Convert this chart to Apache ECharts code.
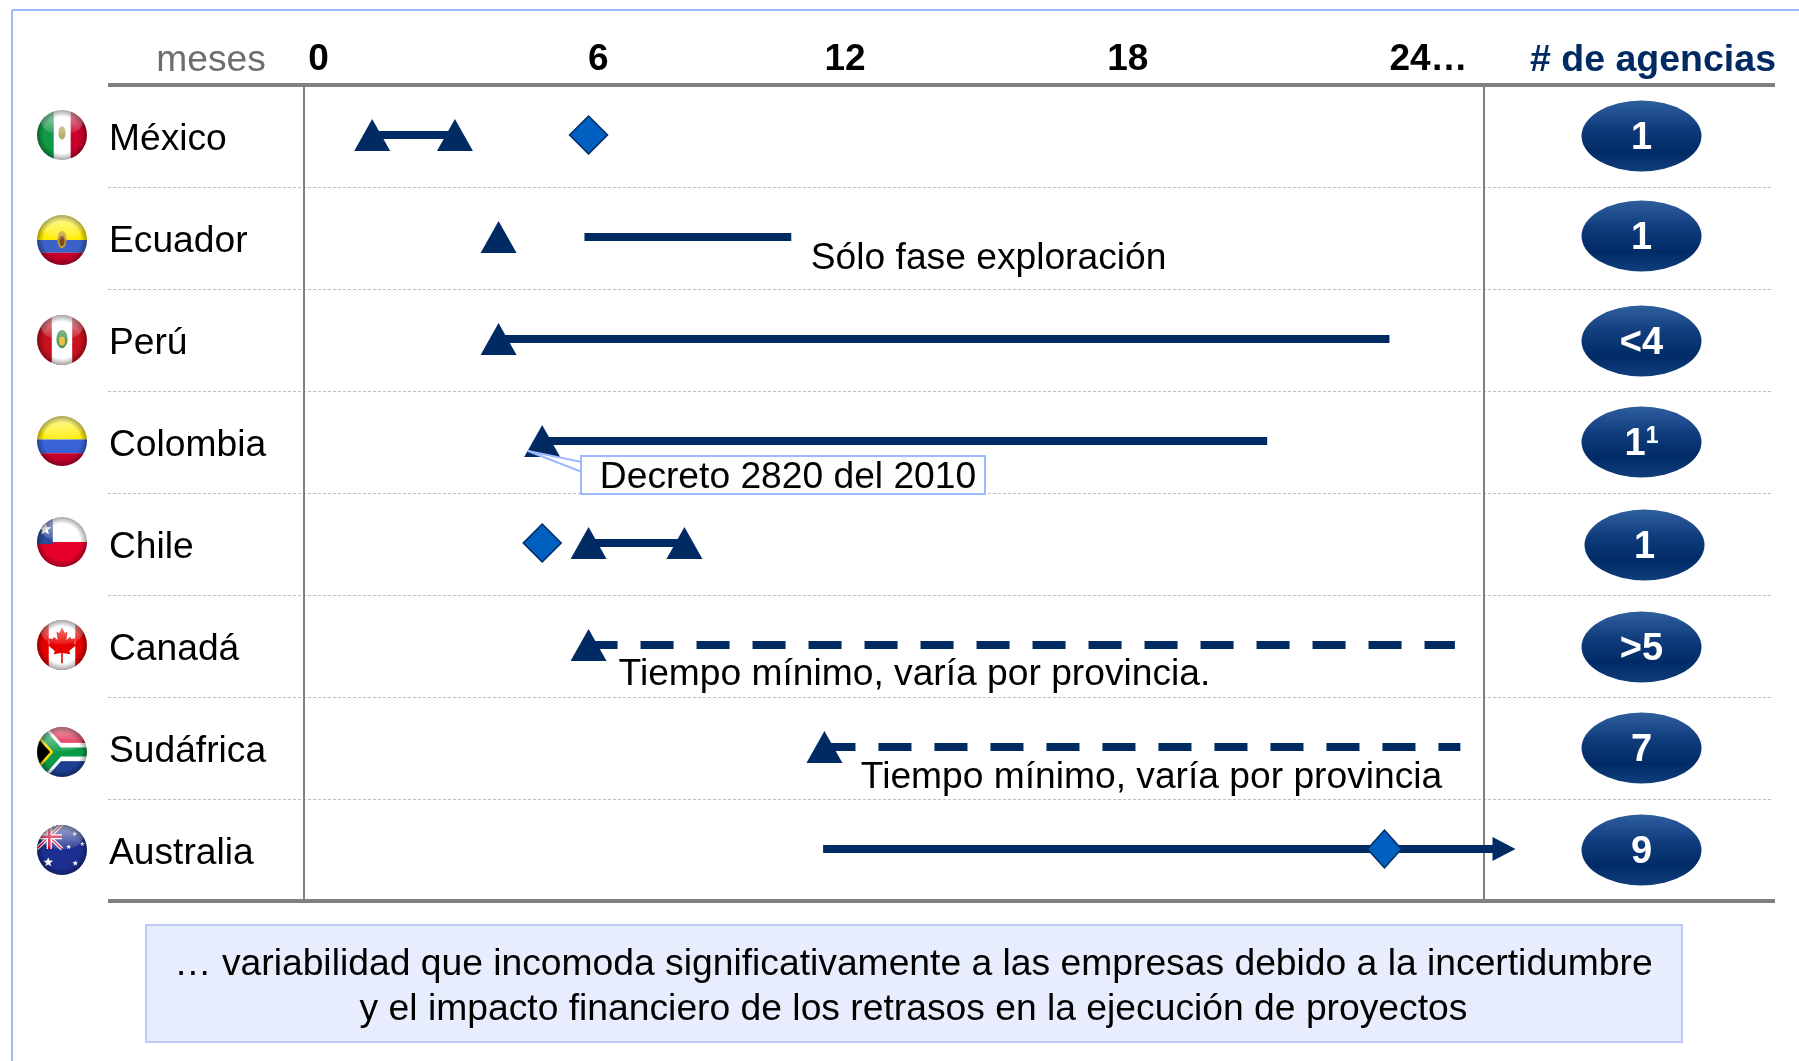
<!DOCTYPE html>
<html>
<head>
<meta charset="utf-8">
<title>Plazos de licenciamiento por país</title>
<script src="https://cdn.jsdelivr.net/npm/echarts@6/dist/echarts.min.js"></script>
<style>
  html, body { margin: 0; padding: 0; background: #fff; }
  #chart { width: 1799px; height: 1061px; }
</style>
</head>
<body>
<div id="chart"></div>
<script>
const countries = ['México', 'Ecuador', 'Perú', 'Colombia', 'Chile', 'Canadá', 'Sudáfrica', 'Australia']
const flagCodes = ['mx', 'ec', 'pe', 'co', 'cl', 'ca', 'za', 'au']
const agencyLabels = ['1', '1', '<4', '1¹', '1', '>5', '7', '9']

const tickMonths = [0, 6, 12, 18, 24]
const tickLabels = ['0', '6', '12', '18', '24…']

// [meses, país]
const triangles = [
  [1.18, 'México'], [3, 'México'], [3.96, 'Ecuador'], [3.96, 'Perú'], [4.92, 'Colombia'],
  [5.94, 'Chile'], [8.05, 'Chile'], [5.94, 'Canadá'], [11.13, 'Sudáfrica']
]
const diamonds = [[5.94, 'México'], [4.92, 'Chile'], [23.45, 'Australia']]
const solidRanges = [
  ['México', 1.18, 3],
  ['Ecuador', 5.85, 10.4],
  ['Perú', 3.96, 23.56],
  ['Colombia', 4.92, 20.87],
  ['Chile', 5.94, 8.05],
  ['Australia', 11.1, 25.9]
]
const dashedRanges = [
  ['Canadá', 5.94, 25],
  ['Sudáfrica', 11.13, 25.12]
]
const arrowHeads = [[26.08, 'Australia']]
const noteTexts = ['Sólo fase exploración', 'Tiempo mínimo, varía por provincia.', 'Tiempo mínimo, varía por provincia']
const notePoints = [[10.83, 'Ecuador'], [6.6, 'Canadá'], [11.93, 'Sudáfrica']]

const calloutText = 'Decreto 2820 del 2010'
const footerText = '… variabilidad que incomoda significativamente a las empresas debido a la incertidumbre\ny el impacto financiero de los retrasos en la ejecución de proyectos'

const FONT = '"Liberation Sans", Arial, sans-serif'
const TEXT_SIZE = 37.2
const NAVY = '#002b62'
const GREY = '#808080'
const FRAME = '#9db8ff'

const star = (cx, cy, r, fill) => {
  const pts = []
  for (let i = 0; i < 10; i++) {
    const rr = i % 2 ? r * 0.42 : r
    const a = -Math.PI / 2 + i * Math.PI / 5
    pts.push((cx + rr * Math.cos(a)).toFixed(1) + ',' + (cy + rr * Math.sin(a)).toFixed(1))
  }
  return `<polygon points="${pts.join(' ')}" fill="${fill}"/>`
}

const flagArt = {
  mx: `<rect width="34" height="100" fill="#119a45"/><rect x="34" width="33" height="100" fill="#fff"/><rect x="67" width="33" height="100" fill="#c8002c"/>
       <ellipse cx="50" cy="46" rx="7" ry="13" fill="#b8b06a"/>`,
  ec: `<rect width="100" height="50" fill="#ffee00"/><rect y="50" width="100" height="25" fill="#3a62c8"/><rect y="75" width="100" height="25" fill="#c8002c"/>
       <ellipse cx="50" cy="49" rx="9" ry="17" fill="#c89a30"/><ellipse cx="50" cy="52" rx="5" ry="10" fill="#7a4a20"/>`,
  pe: `<rect width="100" height="100" fill="#c8101e"/><rect x="30" width="40" height="100" fill="#fff"/>
       <ellipse cx="50" cy="48" rx="11" ry="18" fill="#4f9a60"/><ellipse cx="50" cy="52" rx="6" ry="9" fill="#f0c040"/>`,
  co: `<rect width="100" height="47" fill="#ffee00"/><rect y="47" width="100" height="27" fill="#3a62d8"/><rect y="74" width="100" height="26" fill="#c8002c"/>`,
  cl: `<rect width="100" height="50" fill="#fff"/><rect y="50" width="100" height="50" fill="#e8002c"/><rect width="32" height="54" fill="#2a4a9a"/>
       ${star(17, 25, 13, '#fff')}`,
  ca: `<rect width="100" height="100" fill="#e80000"/><rect x="24" width="52" height="100" fill="#fff"/>
       <path transform="translate(50 50) scale(.78) translate(-50 -50)" fill="#e80000" d="M50 6 L57 20 L64 16 L61 38 L70 29 L73 35 L85 33 L81 46 L86 50 L68 65 L71 73 L52 70 L52 96 L48 96 L48 70 L29 73 L32 65 L14 50 L19 46 L15 33 L27 35 L30 29 L39 38 L36 16 L43 20 Z"/>`,
  za: `<rect width="100" height="100" fill="#fff"/><rect width="100" height="32" fill="#d8002c"/><rect y="68" width="100" height="32" fill="#1c3f94"/>
       <path d="M-4 -4 L44 50 L104 50 M-4 104 L44 50" fill="none" stroke="#fff" stroke-width="30"/>
       <path d="M-4 -4 L44 50 L104 50 M-4 104 L44 50" fill="none" stroke="#0a9a48" stroke-width="18"/>
       <path d="M-2 14 L30 50 L-2 86 Z" fill="#000" stroke="#ffd800" stroke-width="5"/>`,
  au: `<rect width="100" height="100" fill="#1c2f90"/><rect width="50" height="48" fill="#1c2f90"/>
       <path d="M0 0 L50 48 M50 0 L0 48" stroke="#fff" stroke-width="7"/><path d="M0 0 L50 48 M50 0 L0 48" stroke="#d8002c" stroke-width="2.5"/>
       <path d="M25 0 V48 M0 24 H50" stroke="#fff" stroke-width="10"/><path d="M25 0 V48 M0 24 H50" stroke="#d8002c" stroke-width="5"/>
       ${star(23, 74, 10, '#fff')}${star(75, 18, 5, '#fff')}${star(76, 76, 6, '#fff')}${star(63, 44, 5, '#fff')}${star(90, 38, 5, '#fff')}`
}

// bandera con brillo esferico
const flagSymbol = (code) => {
  const svg = `<svg xmlns="http://www.w3.org/2000/svg" width="102" height="102" viewBox="0 0 100 100">
    <defs>
      <clipPath id="c"><circle cx="50" cy="50" r="49"/></clipPath>
      <radialGradient id="rim" cx=".5" cy=".5" r=".5"><stop offset=".72" stop-color="#000" stop-opacity="0"/><stop offset="1" stop-color="#000" stop-opacity=".38"/></radialGradient>
      <linearGradient id="gloss" x1="0" y1="0" x2="0" y2="1"><stop offset="0" stop-color="#fff" stop-opacity=".62"/><stop offset="1" stop-color="#fff" stop-opacity=".08"/></linearGradient>
    </defs>
    <g clip-path="url(#c)">${flagArt[code]}
      <ellipse cx="50" cy="25" rx="41" ry="24" fill="url(#gloss)"/>
      <circle cx="50" cy="50" r="50" fill="url(#rim)"/>
    </g></svg>`
  return 'image://data:image/svg+xml;charset=utf-8,' + encodeURIComponent(svg)
}

// etiquetas de eje colocadas a mano en el original
const tickRich = (pad) => ({ fontFamily: FONT, fontSize: 37, fontWeight: 'bold', color: '#000', padding: pad })

const MONTH_MIN = -0.32
const MONTH_MAX = 25.64
const flagDy = [0, 3, 1, 0, -1, 0, 5, 1]
const badgeNudge = [[0, 1], [0, -1], [0, 2], [0, 1], [3, 2], [0, 2], [0, 1], [0, 1]]
const noteDy = [22, 30, 31]

const chart = echarts.init(document.getElementById('chart'))

const rangeLine = ([country, from, to], dashed, i) => ({
  type: 'line',
  data: [[from, country], [to, country]],
  symbol: 'none',
  clip: false,
  z: 2,
  lineStyle: {
    color: NAVY,
    width: 8,
    cap: 'butt',
    type: dashed ? [33, 23] : 'solid',
    dashOffset: dashed ? [4, 2][i] : 0,
    opacity: 1
  }
})

const separators = [1, 2, 3, 4, 5, 6, 7].map((k) => ({
  type: 'line',
  shape: { x1: 108, y1: 85.5 + 102 * k, x2: 1773, y2: 85.5 + 102 * k },
  style: { stroke: '#bdbdbd', lineWidth: 1, lineDash: [3, 2] },
  z: 0
}))

const option = {
  animation: false,
  backgroundColor: '#fff',
  textStyle: { fontFamily: FONT },
  tooltip: { show: false },
  grid: [
    { left: 304, width: 1180, top: 84, height: 816 },
    { left: 1484, right: 0, top: 84, height: 816 }
  ],
  xAxis: [
    {
      type: 'value',
      gridIndex: 0,
      position: 'top',
      min: MONTH_MIN,
      max: MONTH_MAX,
      axisLine: { show: false },
      axisTick: { show: false },
      splitLine: { show: false },
      axisLabel: {
        customValues: tickMonths,
        margin: 6,
        formatter: (v) => `{t${v}|${tickLabels[tickMonths.indexOf(v)]}}`,
        rich: {
          t0: tickRich([0, 0, 0, 0]),
          t6: tickRich([0, 0, 0, 14]),
          t12: tickRich([0, 38, 0, 0]),
          t18: tickRich([0, 18, 0, 0]),
          t24: tickRich([0, 0, 0, 38])
        }
      }
    },
    {
      type: 'category',
      gridIndex: 1,
      position: 'top',
      data: ['# de agencias'],
      axisLine: { show: false },
      axisTick: { show: false },
      axisLabel: {
        margin: 4,
        color: NAVY,
        fontFamily: FONT,
        fontSize: 37.5,
        fontWeight: 'bold',
        padding: [0, 0, 0, 23]
      }
    }
  ],
  yAxis: [
    {
      type: 'category',
      gridIndex: 0,
      inverse: true,
      data: countries,
      axisLine: { show: true, onZero: false, lineStyle: { color: GREY, width: 2 } },
      axisTick: { show: false },
      splitLine: { show: false },
      axisLabel: {
        align: 'left',
        margin: 195,
        formatter: (v) => `{c|${v}}`,
        rich: {
          c: { color: '#000', fontFamily: FONT, fontSize: TEXT_SIZE, padding: [9, 0, 0, 0] }
        }
      }
    },
    {
      type: 'category',
      gridIndex: 1,
      inverse: true,
      data: countries,
      axisLine: { show: true, lineStyle: { color: GREY, width: 2 } },
      axisTick: { show: false },
      axisLabel: { show: false },
      splitLine: { show: false }
    }
  ],
  series: [
    ...solidRanges.map((r, i) => rangeLine(r, false, i)),
    ...dashedRanges.map((r, i) => rangeLine(r, true, i)),
    {
      type: 'scatter',
      name: 'triangulos',
      data: triangles,
      symbol: 'triangle',
      symbolSize: [36, 32],
      itemStyle: { color: NAVY, opacity: 1 },
      z: 3
    },
    {
      type: 'scatter',
      name: 'rombos',
      data: diamonds.map((d) => ({ value: d, symbolSize: d[1] === 'Australia' ? [34, 38] : [38, 38] })),
      symbol: 'diamond',
      itemStyle: { color: '#0060c0', borderColor: NAVY, borderWidth: 1.5, opacity: 1 },
      z: 4
    },
    {
      type: 'scatter',
      name: 'flecha',
      data: arrowHeads,
      symbol: 'triangle',
      symbolRotate: -90,
      symbolSize: [24, 23],
      clip: false,
      itemStyle: { color: NAVY, opacity: 1 },
      z: 3
    },
    {
      type: 'scatter',
      name: 'notas',
      data: notePoints,
      symbolSize: 0,
      clip: false,
      itemStyle: { opacity: 1 },
      label: {
        show: true,
        position: 'right',
        distance: 0,
        color: '#000',
        fontFamily: FONT,
        fontSize: TEXT_SIZE,
        formatter: (p) => noteTexts[p.dataIndex]
      },
      labelLayout: (p) => ({ dy: noteDy[p.dataIndex] }),
      z: 3
    },
    {
      type: 'scatter',
      name: 'banderas',
      data: countries.map((c, i) => ({
        value: [MONTH_MIN, c],
        symbol: flagSymbol(flagCodes[i]),
        symbolOffset: [-242, flagDy[i]]
      })),
      symbolSize: [51, 51],
      clip: false,
      itemStyle: { opacity: 1 },
      z: 3
    },
    {
      type: 'scatter',
      name: 'agencias',
      xAxisIndex: 1,
      yAxisIndex: 1,
      data: countries.map((c, i) => ({
        value: ['# de agencias', c],
        symbolOffset: badgeNudge[i]
      })),
      symbol: 'circle',
      symbolSize: [120, 71],
      clip: false,
      itemStyle: {
        opacity: 1,
        color: new echarts.graphic.LinearGradient(0, 0, 0, 1, [
          { offset: 0, color: '#2f5f9f' },
          { offset: 0.38, color: '#103c7c' },
          { offset: 0.72, color: '#002b66' },
          { offset: 1, color: '#113f7c' }
        ])
      },
      label: {
        show: true,
        position: 'inside',
        color: '#fff',
        fontFamily: FONT,
        fontSize: 38,
        fontWeight: 'bold',
        formatter: (p) => agencyLabels[p.dataIndex].replace('¹', '{sup|1}'),
        rich: {
          sup: { color: '#fff', fontFamily: FONT, fontSize: 23, fontWeight: 'bold', verticalAlign: 'top', padding: [0, 0, 12, 0] }
        }
      },
      labelLayout: () => ({ dy: 2.5 }),
      z: 3
    }
  ],
  graphic: [
    // marco
    { type: 'line', shape: { x1: 12, y1: 10, x2: 1799, y2: 10 }, style: { stroke: FRAME, lineWidth: 2 } },
    { type: 'line', shape: { x1: 12, y1: 10, x2: 12, y2: 1061 }, style: { stroke: FRAME, lineWidth: 2 } },
    { type: 'text', x: 211, y: 60.5, style: { text: 'meses', fontFamily: FONT, fontSize: TEXT_SIZE, fill: '#6e6e6e', align: 'center', verticalAlign: 'middle' } },
    ...separators,
    { type: 'line', shape: { x1: 108, y1: 85, x2: 1775, y2: 85 }, style: { stroke: GREY, lineWidth: 4 }, z: 1 },
    { type: 'line', shape: { x1: 108, y1: 901, x2: 1775, y2: 901 }, style: { stroke: GREY, lineWidth: 4 }, z: 1 },
    // globo del decreto
    { type: 'polygon', shape: { points: [[528, 451], [582, 462], [582, 472]] }, style: { fill: '#fff', stroke: FRAME, lineWidth: 2 }, z: 10 },
    { type: 'rect', shape: { x: 581, y: 456, width: 404, height: 38 }, style: { fill: '#fcfdff', stroke: FRAME, lineWidth: 2 }, z: 10 },
    { type: 'text', x: 788, y: 478, style: { text: calloutText, fontFamily: FONT, fontSize: TEXT_SIZE, fill: '#000', align: 'center', verticalAlign: 'middle' }, z: 11 },
    // caja inferior
    { type: 'rect', shape: { x: 146, y: 925, width: 1536, height: 117 }, style: { fill: '#e8edfd', stroke: '#bccbf6', lineWidth: 2 } },
    { type: 'text', x: 913.5, y: 987, style: { text: footerText, fontFamily: FONT, fontSize: 37.25, lineHeight: 45, fill: '#000', align: 'center', verticalAlign: 'middle' }, z: 2 }
  ]
}

chart.setOption(option)
window.addEventListener('resize', () => chart.resize())
</script>
</body>
</html>
